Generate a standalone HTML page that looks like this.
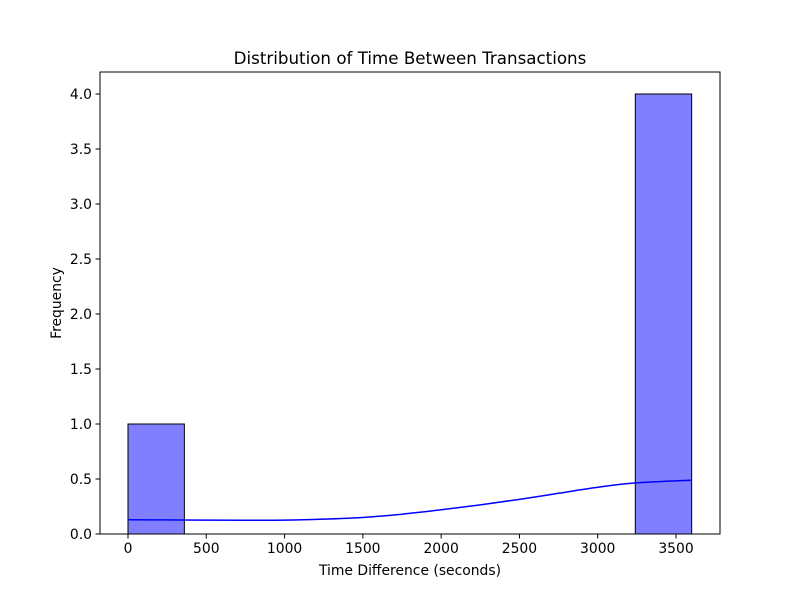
<!DOCTYPE html>
<html><head><meta charset="utf-8"><style>
body{margin:0;background:#fff;}
text{font-family:"DejaVu Sans","Liberation Sans",sans-serif;fill:#000;}
</style></head><body>
<svg id="chart" width="800" height="600" xmlns="http://www.w3.org/2000/svg">
<text x="410" y="64" text-anchor="middle" font-size="16.7">Distribution of Time Between Transactions</text>
<g id="bars"></g>
<g id="kde"></g>
<rect x="100" y="72" width="620" height="462" fill="none" stroke="#000" stroke-width="1"/>
<g id="xticks"></g>
<g id="yticks"></g>
<text x="410" y="575" text-anchor="middle" font-size="13.9">Time Difference (seconds)</text>
<text x="0" y="0" transform="translate(61,303) rotate(-90)" text-anchor="middle" font-size="13.9">Frequency</text>
</svg>
<script>
const binEdges=[0,360,720,1080,1440,1800,2160,2520,2880,3240,3600];
const counts=[1,0,0,0,0,0,0,0,0,4];
const kdeX=[0,250,500,750,1000,1250,1500,1750,2000,2250,2500,2750,3000,3250,3600];
const kdeY=[0.13,0.128,0.126,0.125,0.126,0.135,0.15,0.18,0.22,0.265,0.315,0.37,0.425,0.465,0.49];
const xTicks=[0,500,1000,1500,2000,2500,3000,3500];
const yTicks=[0,0.5,1,1.5,2,2.5,3,3.5,4];
const NS="http://www.w3.org/2000/svg";
const sx=v=>128+v*548/3500;
const sy=v=>534-v*110;
function mk(tag,attrs,parent){const e=document.createElementNS(NS,tag);for(const k in attrs)e.setAttribute(k,attrs[k]);document.getElementById(parent).appendChild(e);return e;}
counts.forEach((c,i)=>{if(c<=0)return;
const r=mk('rect',{x:sx(binEdges[i]),y:sy(c),width:sx(binEdges[i+1])-sx(binEdges[i]),height:sy(0)-sy(c),fill:'#8080ff',stroke:'#000','stroke-width':1},'bars');

});
const pts=kdeX.map((x,i)=>[sx(x),sy(kdeY[i])]);
let d='M'+pts[0][0]+' '+pts[0][1];
for(let i=0;i<pts.length-1;i++){const p0=pts[Math.max(0,i-1)],p1=pts[i],p2=pts[i+1],p3=pts[Math.min(pts.length-1,i+2)];
d+=' C'+(p1[0]+(p2[0]-p0[0])/6)+' '+(p1[1]+(p2[1]-p0[1])/6)+' '+(p2[0]-(p3[0]-p1[0])/6)+' '+(p2[1]-(p3[1]-p1[1])/6)+' '+p2[0]+' '+p2[1];}
const p=mk('path',{d:d,fill:'none',stroke:'#0000ff','stroke-width':1.5},'kde');


xTicks.forEach(t=>{const x=sx(t);
const l=mk('line',{x1:x,x2:x,y1:534,y2:538.5,stroke:'#000'},'xticks');


const tx=mk('text',{x:x,y:553,'text-anchor':'middle','font-size':13.9},'xticks');tx.textContent=t;

});
yTicks.forEach(t=>{const y=sy(t);
const l=mk('line',{x1:95.5,x2:100,y1:y,y2:y,stroke:'#000'},'yticks');


const tx=mk('text',{x:92,y:y+5,'text-anchor':'end','font-size':13.9},'yticks');tx.textContent=t.toFixed(1);

});
</script>
</body></html>
